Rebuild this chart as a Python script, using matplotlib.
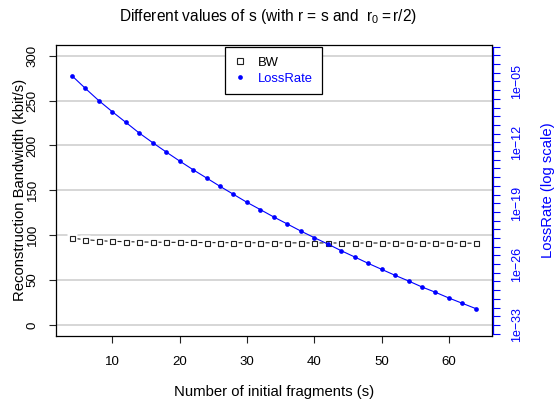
import math
import matplotlib
matplotlib.use("Agg")
import matplotlib.pyplot as plt
from matplotlib.lines import Line2D
from matplotlib.ticker import FixedLocator, FuncFormatter, NullLocator

plt.rcParams['font.family'] = ['Liberation Sans', 'DejaVu Sans']
plt.rcParams['mathtext.fontset'] = 'custom'
plt.rcParams['mathtext.rm'] = 'Liberation Sans'
plt.rcParams['mathtext.it'] = 'Liberation Sans'
plt.rcParams['ytick.alignment'] = 'center'

# ---- data ----
s_values = [4, 6, 8, 10, 12, 14, 16, 18, 20, 22, 24, 26, 28, 30, 32, 34,
            36, 38, 40, 42, 44, 46, 48, 50, 52, 54, 56, 58, 60, 62, 64]
bw = [96.7, 95.0, 93.9, 93.2, 92.8, 92.5, 92.3, 92.1, 92.0, 91.9, 91.8,
      91.7, 91.7, 91.6, 91.6, 91.5, 91.5, 91.4, 91.4, 91.4, 91.3, 91.3,
      91.3, 91.3, 91.2, 91.2, 91.2, 91.2, 91.2, 91.1, 91.1]
loss_rate = [4.57e-05, 1.58e-06, 6.17e-08, 3.31e-09, 2.00e-10, 1.17e-11,
             9.12e-13, 7.76e-14, 7.08e-15, 7.08e-16, 7.94e-17, 8.71e-18,
             1.05e-18, 1.26e-19, 1.82e-20, 2.57e-21, 4.07e-22, 6.31e-23,
             1.10e-23, 2.04e-24, 3.47e-25, 6.61e-26, 1.23e-26, 2.51e-27,
             5.13e-28, 1.15e-28, 2.34e-29, 5.75e-30, 1.26e-30, 3.09e-31,
             7.59e-32]
x_ticks = [10, 20, 30, 40, 50, 60]
bw_ticks = [0, 50, 100, 150, 200, 250, 300]
loss_label_exps = [-33, -26, -19, -12, -5]
loss_tick_exps = list(range(-34, 0))

BLUE = '#0000ff'
FS = 9.5
FS_R = 9.0
FS_LAB = 10.7
FS_LEG = 9.4

fig = plt.figure(figsize=(5.55, 4.07), dpi=100)
ax = fig.add_axes([0.1004, 0.1752, 0.7861, 0.7142])

ax.set_xlim(1.6, 66.4)
ax.set_ylim(-12, 312)

for v in bw_ticks:
    ax.axhline(v, color='#d3d3d3', lw=1.3, zorder=1)

ax.plot(s_values, bw, color='#222222', lw=0.8, zorder=2)
ax.plot(s_values, bw, 's', ms=7.5, mfc='white', mec='none', zorder=3)
ax.plot(s_values, bw, 's', ms=3.6, mfc='none', mec='#222222', mew=0.8, zorder=4)

ax.set_xticks(x_ticks)
ax.set_yticks(bw_ticks)
ax.tick_params(axis='both', direction='out', length=5.2, width=0.8,
               labelsize=FS, color='#222222')
ax.tick_params(axis='x', pad=9.5)
ax.tick_params(axis='y', pad=7.0, labelrotation=90)
for sp in ax.spines.values():
    sp.set_linewidth(0.9)
    sp.set_color('black')

ax.set_xlabel('Number of initial fragments (s)', fontsize=FS_LAB, labelpad=12.0)
ax.set_ylabel('Reconstruction Bandwidth (kbit/s)', fontsize=FS_LAB, labelpad=0.0)

ax2 = ax.twinx()
ax2.set_yscale('log')
ax2.set_ylim(10 ** -34.23, 10 ** -0.816)
ax2.plot(s_values, loss_rate, '-', color=BLUE, lw=0.8, zorder=5)
ax2.plot(s_values, loss_rate, 'o', color=BLUE, ms=3.4, mec='none', zorder=6)

ax2.yaxis.set_major_locator(FixedLocator([10.0 ** e for e in loss_tick_exps]))
ax2.yaxis.set_minor_locator(NullLocator())


def fmt(v, pos):
    e = int(round(math.log10(v)))
    if e in loss_label_exps:
        return '1e\u2212%02d' % (-e)
    return ''


ax2.yaxis.set_major_formatter(FuncFormatter(fmt))
ax2.tick_params(axis='y', direction='out', length=5.2, width=0.8,
                labelsize=FS_R, color=BLUE, labelcolor=BLUE, pad=7.5,
                labelrotation=90)
for k in ['top', 'bottom', 'left']:
    ax2.spines[k].set_visible(False)
ax2.spines['right'].set_color(BLUE)
ax2.spines['right'].set_linewidth(0.9)
ax2.spines['right'].set_position(('outward', 1.0))
ax2.spines['right'].set_bounds(10.0 ** loss_tick_exps[0], 10.0 ** loss_tick_exps[-1])
ax2.set_ylabel('LossRate (log scale)', fontsize=FS_LAB, color=BLUE, labelpad=13.0)

handles = [Line2D([], [], ls='none', marker='s', ms=4, mfc='none', mec='#222222', mew=0.8),
           Line2D([], [], ls='none', marker='o', ms=3.4, color=BLUE, mec='none')]
leg = ax2.legend(handles, ['BW', 'LossRate'], loc='upper center',
                 bbox_to_anchor=(0.5, 0.992), fontsize=FS_LEG, frameon=True,
                 fancybox=False, framealpha=1, edgecolor='black',
                 borderpad=0.7, labelspacing=0.3, handlelength=0.85,
                 handletextpad=0.95, borderaxespad=0,
                 labelcolor=['black', BLUE])
leg.get_frame().set_linewidth(0.9)

fig.text(268 / 555, 1 - 16 / 407,
         'Different values of s (with r = s and  $\\mathregular{r_0 = r/2}$)',
         ha='center', va='center', fontsize=11.2)

fig.savefig('out.png', dpi=100)
